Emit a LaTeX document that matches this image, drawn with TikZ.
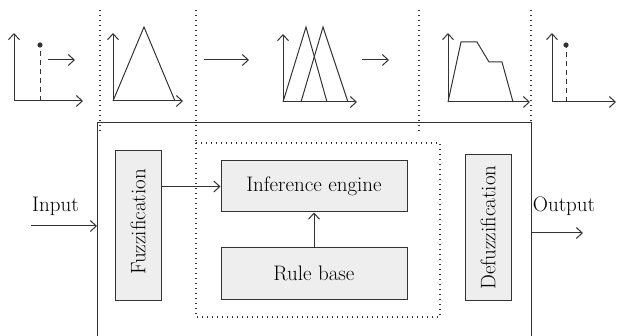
\documentclass[tikz,border=0pt]{standalone}
\usepackage{fontspec}
\setmainfont{Latin Modern Roman}
\usetikzlibrary{arrows.meta}
\definecolor{ln}{HTML}{333333}
\definecolor{boxfill}{HTML}{EEEEEE}
\begin{document}
\begin{tikzpicture}[x=1pt,y=-1pt, color=ln, line width=1pt,
  arr/.style={-{Straight Barb[length=6pt,width=11pt,line width=1pt]}},
  arrb/.style={{Straight Barb[length=6pt,width=11pt,line width=1pt]}-{Straight Barb[length=6pt,width=11pt,line width=1pt]}},
  dots/.style={line width=1.1pt, dash pattern=on 1.1pt off 3.9pt},
  blk/.style={draw=ln, fill=boxfill, line width=1pt, inner sep=0pt},
  lbl/.style={font=\fontsize{21}{25}\selectfont, text=black},
  dash2/.style={dash pattern=on 5pt off 4pt}
]
\useasboundingbox (0,0) rectangle (617,336);

% ---- top graphs ----
% graph 1
\draw[arrb] (14,33) -- (14,101) -- (83,101);
\draw[dash2] (40,101) -- (40,47);
\fill[ln] (40,45) circle (2.6pt);
\draw[arr] (48,60) -- (75,60);
% graph 2
\draw[arrb] (113,33) -- (113,101) -- (183,101);
\draw (113,101) -- (144,27) -- (175,101);
\draw[arr] (204,60) -- (249,60);
% graph 3
\draw[arrb] (283,34) -- (283,102) -- (357,102);
\draw (283,102) -- (306,27) -- (327,102);
\draw (301,102) -- (323,27) -- (348,102);
\draw[arr] (362,60) -- (389,60);
% graph 4
\draw[arrb] (448,33) -- (448,102) -- (530,102);
\draw (448,102) -- (461,42) -- (477,42) -- (489,62) -- (502,62) -- (513,102);
% graph 5
\draw[arrb] (552,33) -- (552,102) -- (616,102);
\draw[dash2] (566,102) -- (566,47);
\fill[ln] (566,45) circle (2.6pt);

% ---- dotted separators ----
\draw[dots] (100,10) -- (100,133);
\draw[dots] (196,10) -- (196,143);
\draw[dots] (419,10) -- (419,133);
\draw[dots] (531,10) -- (531,123);
\draw[dots] (196,143) rectangle (440,317);

% ---- main box ----
\draw (97,337) -- (97,123) -- (531,123) -- (531,337);

% ---- blocks ----
\node[blk, minimum width=46pt, minimum height=149pt] (fuzz) at (138,225.5) {};
\node[lbl, rotate=90] (fuzzt) at (138,222) {Fuzzification};
\node[blk, minimum width=186pt, minimum height=51pt, lbl] (inf) at (314,186.5) {Inference engine};
\node[blk, minimum width=186pt, minimum height=52pt, lbl] (rule) at (314,273) {Rule base};
\node[blk, minimum width=46pt, minimum height=145pt] (defuzz) at (488,227.5) {};
\node[lbl, rotate=90] (defuzzt) at (488,227.5) {Defuzzification};

\draw[arr] (fuzz.east |- inf.west) -- (inf.west);
\draw[arr] (rule.north) -- (inf.south);

% ---- input / output ----
\node[lbl, anchor=base] (input) at (55.5,212) {Input};
\node[lbl, anchor=base] (output) at (564,212) {Output};
\coordinate (inS) at (31,226);
\coordinate (inE) at (97,226);
\coordinate (outS) at (531,233);
\coordinate (outE) at (583,233);
\draw[arr] (inS) -- (inE);
\draw[arr] (outS) -- (outE);
\end{tikzpicture}
\end{document}
